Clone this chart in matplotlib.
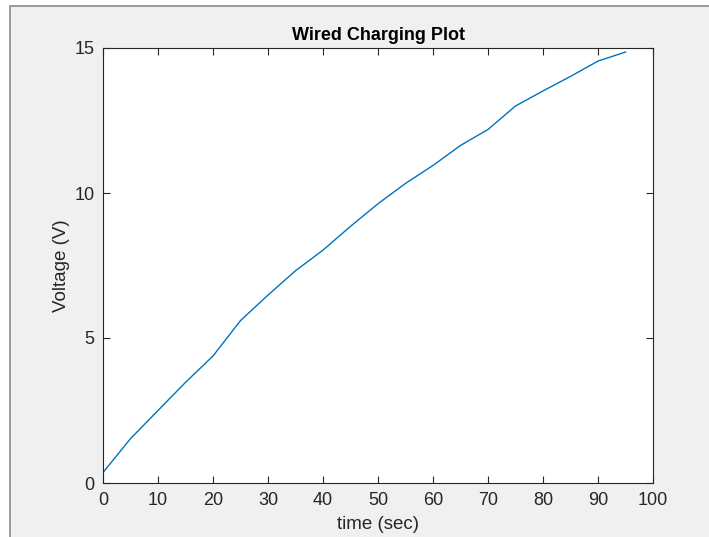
import numpy as np
import matplotlib.pyplot as plt
from matplotlib.patches import Rectangle

plt.rcParams['font.family'] = ['Liberation Sans', 'DejaVu Sans']

# charging data
t = [0, 5, 10, 15, 20, 25, 30, 35, 40, 45, 50, 55, 60, 65, 70, 75, 80, 85, 90, 95]
v = [0.36, 1.53, 2.5, 3.47, 4.38, 5.6, 6.48, 7.32, 8.03, 8.85, 9.63, 10.33, 10.95,
     11.64, 12.19, 13.0, 13.52, 14.02, 14.55, 14.86]

W, H = 709, 537
fig = plt.figure(figsize=(W / 100, H / 100), dpi=100, facecolor='white')

# grey window background with a thin frame on top and left, like the screenshot
fig.patches.append(Rectangle((10 / W, -0.1), 1.2, 1.1 - 6 / H, transform=fig.transFigure,
                             facecolor='#f0f0f0', edgecolor='#8a8a8a', linewidth=1.2,
                             zorder=-10))

ax = fig.add_axes([103 / W, 1 - 483 / H, 550 / W, 435 / H])
ax.set_facecolor('white')
ax.plot(t, v, color='#0072BD', linewidth=1.0)

ax.set_xlim(0, 100)
ax.set_ylim(0, 15)
ax.set_xticks(np.arange(0, 101, 10))
ax.set_yticks([0, 5, 10, 15])

dark = '#262626'
for s in ax.spines.values():
    s.set_color(dark)
    s.set_linewidth(0.8)
ax.tick_params(direction='in', length=5, width=0.8, color=dark, labelcolor=dark,
               labelsize=13, top=True, right=True)
ax.tick_params(axis='x', pad=6.5)
ax.tick_params(axis='y', pad=6)

ax.set_title('Wired Charging Plot', fontsize=13, fontweight='bold', color='black', pad=6)
ax.set_xlabel('time (sec)', fontsize=13.5, color=dark, labelpad=5)
ax.set_ylabel('Voltage (V)', fontsize=13.5, color=dark, labelpad=3)

fig.savefig('out.png', dpi=100, facecolor=fig.get_facecolor())
